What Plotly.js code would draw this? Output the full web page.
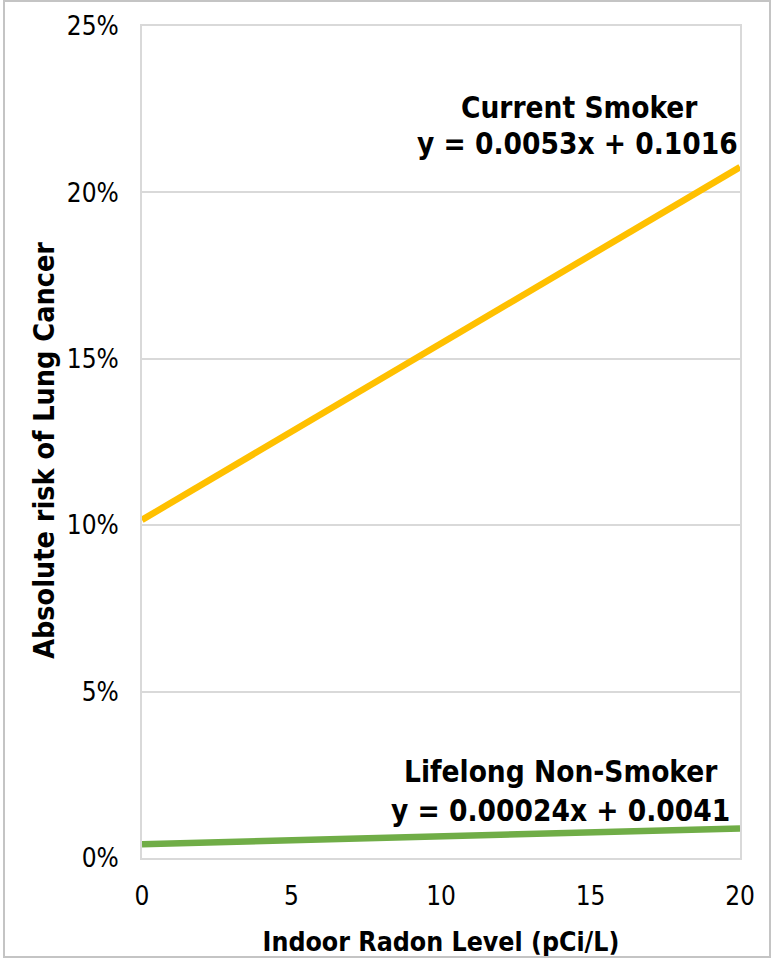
<!DOCTYPE html>
<html>
<head>
<meta charset="utf-8">
<script src="https://cdn.plot.ly/plotly-3.0.1.min.js"></script>
<style>
  html, body { margin: 0; padding: 0; background: #fff; }
  #wrap { position: relative; width: 771px; height: 959px; overflow: hidden; }
  #chart { position: absolute; left: 0; top: 0; width: 771px; height: 959px; }
  #frame {
    position: absolute; left: 3px; top: 0px; width: 764px; height: 954px;
    border: 2px solid #c4c4c4; pointer-events: none;
  }
</style>
</head>
<body>
<div id="wrap">
  <div id="chart"></div>
  <div id="frame"></div>
</div>
<script>
// Indoor radon level (pCi/L) at the ends of each fitted line
const radonLevels = [0, 20];

// Absolute lifetime risk of lung cancer (fraction) from the fitted lines
const smokerRisk = [0.1016, 0.2076];      // y = 0.0053x + 0.1016
const nonSmokerRisk = [0.0041, 0.0089];   // y = 0.00024x + 0.0041

// Series labels and their fitted equations
const seriesNames = ['Current Smoker', 'Lifelong Non-Smoker'];
const equations = ['y = 0.0053x + 0.1016', 'y = 0.00024x + 0.0041'];

// Axis titles and tick values
const xTitle = 'Indoor Radon Level (pCi/L)';
const yTitle = 'Absolute risk of Lung Cancer';
const xTicks = [0, 5, 10, 15, 20];
const yTicks = [0, 0.05, 0.10, 0.15, 0.20, 0.25];

const tickFamily = '"Liberation Sans Narrow", "Arial Narrow", "DejaVu Sans Condensed", sans-serif';
const boldFamily = '"DejaVu Sans Condensed", "DejaVu Sans", sans-serif';
const gridGray = '#d9d9d9';

const traces = [
  {
    x: radonLevels, y: smokerRisk, name: seriesNames[0],
    type: 'scatter', mode: 'lines',
    line: { color: '#FFC000', width: 6.5 }
  },
  {
    x: radonLevels, y: nonSmokerRisk, name: seriesNames[1],
    type: 'scatter', mode: 'lines',
    line: { color: '#70AD47', width: 6.5 }
  }
];

const labelFont = { family: boldFamily, size: 29.5, color: '#000' };

function label(text, x, y) {
  return {
    text: '<b>' + text + '</b>', x: x, y: y, xref: 'x', yref: 'y',
    xanchor: 'center', yanchor: 'middle', showarrow: false,
    font: labelFont
  };
}

const layout = {
  width: 771,
  height: 959,
  margin: { l: 142, r: 31, t: 26, b: 101, pad: 0 },
  paper_bgcolor: '#fff',
  plot_bgcolor: '#fff',
  showlegend: false,
  xaxis: {
    range: [0, 20],
    tickvals: xTicks,
    showgrid: false,
    zeroline: false,
    showline: true, mirror: true, linecolor: gridGray, linewidth: 2,
    ticks: '',
    ticklabelstandoff: 14,
    tickfont: { family: tickFamily, size: 26, color: '#000' },
    title: {
      text: '<b>' + xTitle + '</b>',
      font: { family: boldFamily, size: 26.5, color: '#000' },
      standoff: 22
    }
  },
  yaxis: {
    range: [0, 0.25],
    tickvals: yTicks,
    tickformat: '.0%',
    showgrid: true, gridcolor: gridGray, gridwidth: 2,
    zeroline: false,
    showline: true, mirror: true, linecolor: gridGray, linewidth: 2,
    ticks: '',
    ticklabelstandoff: 16,
    tickfont: { family: tickFamily, size: 26, color: '#000' }
  },
  annotations: [
    // vertical axis title, set beside the tick labels
    {
      text: '<b>' + yTitle + '</b>', textangle: -90,
      xref: 'paper', yref: 'paper', x: -0.163, y: 0.49,
      xanchor: 'center', yanchor: 'middle', showarrow: false,
      font: { family: boldFamily, size: 28.5, color: '#000' }
    },
    label(seriesNames[0], 14.62, 0.2255),
    label(equations[0], 14.58, 0.2144),
    label(seriesNames[1], 14.01, 0.0258),
    label(equations[1], 13.98, 0.0141)
  ]
};

Plotly.newPlot('chart', traces, layout, { staticPlot: true, displayModeBar: false });
</script>
</body>
</html>
